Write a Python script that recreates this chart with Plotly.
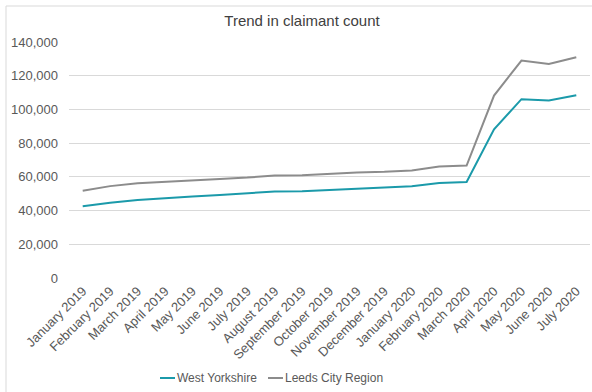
import plotly.graph_objects as go

# Monthly claimant count
months = [
    "January 2019", "February 2019", "March 2019", "April 2019", "May 2019",
    "June 2019", "July 2019", "August 2019", "September 2019", "October 2019",
    "November 2019", "December 2019", "January 2020", "February 2020",
    "March 2020", "April 2020", "May 2020", "June 2020", "July 2020",
]
west_yorkshire = [
    42600, 44700, 46200, 47400, 48400, 49200, 50200, 51300, 51400, 52100,
    52900, 53400, 54400, 56300, 56900, 88200, 106100, 105300, 108400,
]
leeds_city_region = [
    51700, 54500, 56200, 57200, 58000, 58800, 59600, 60800, 61000, 62000,
    62600, 63000, 63800, 66100, 66700, 108200, 129000, 126900, 131000,
]
y_ticks = [0, 20000, 40000, 60000, 80000, 100000, 120000, 140000]

TEAL = "#1b9aaa"
GREY = "#8c8c8c"
TEXT = "#595959"
FONT = "Liberation Sans, Arial, sans-serif"

# plot-area geometry in pixels (used to place the legend and border)
W, H = 592, 392
L, R, T, B = 69, 2, 42, 114
PW, PH = W - L - R, H - T - B


def px_x(x):
    return (x - L) / PW


def px_y(y):
    return (H - B - y) / PH


fig = go.Figure()
fig.add_trace(go.Scatter(x=months, y=west_yorkshire, mode="lines",
                         name="West Yorkshire",
                         line=dict(color=TEAL, width=2)))
fig.add_trace(go.Scatter(x=months, y=leeds_city_region, mode="lines",
                         name="Leeds City Region",
                         line=dict(color=GREY, width=2)))

shapes = [
    # outer chart border
    dict(type="rect", xref="paper", yref="paper",
         x0=px_x(6), x1=px_x(600), y0=px_y(400), y1=px_y(6),
         line=dict(color="#d9d9d9", width=1), layer="below"),
]
annotations = []

# legend: short line swatch followed by the series name
legend_items = [("West Yorkshire", TEAL, 160), ("Leeds City Region", GREY, 268)]
for name, color, x0 in legend_items:
    shapes.append(dict(type="line", xref="paper", yref="paper",
                       x0=px_x(x0), x1=px_x(x0 + 15),
                       y0=px_y(378), y1=px_y(378),
                       line=dict(color=color, width=2)))
    annotations.append(dict(text=name, xref="paper", yref="paper",
                            x=px_x(x0 + 15), y=px_y(378),
                            xanchor="left", yanchor="middle", showarrow=False,
                            font=dict(family=FONT, size=12, color=TEXT)))

fig.update_layout(
    width=W, height=H,
    margin=dict(l=L, r=R, t=T, b=B),
    paper_bgcolor="white", plot_bgcolor="white",
    showlegend=False,
    title=dict(text="Trend in claimant count", xref="container", yref="container",
               x=302 / W, y=1 - 21 / H, xanchor="center", yanchor="middle",
               font=dict(family=FONT, size=15, color="#404040")),
    font=dict(family=FONT, size=13, color=TEXT),
    shapes=shapes,
    annotations=annotations,
    xaxis=dict(type="category", range=[-0.5, len(months) - 0.5],
               tickangle=-45, showgrid=False, showline=False, ticks="",
               ticklabelstandoff=2,
               tickfont=dict(family=FONT, size=13, color=TEXT)),
    yaxis=dict(range=[0, 140000], tickvals=y_ticks, tickformat=",",
               showgrid=True, gridcolor="#d9d9d9", gridwidth=1,
               zeroline=False, showline=False, ticks="",
               ticklabelstandoff=10,
               tickfont=dict(family=FONT, size=13, color=TEXT)),
)

fig.write_html("out.html")
